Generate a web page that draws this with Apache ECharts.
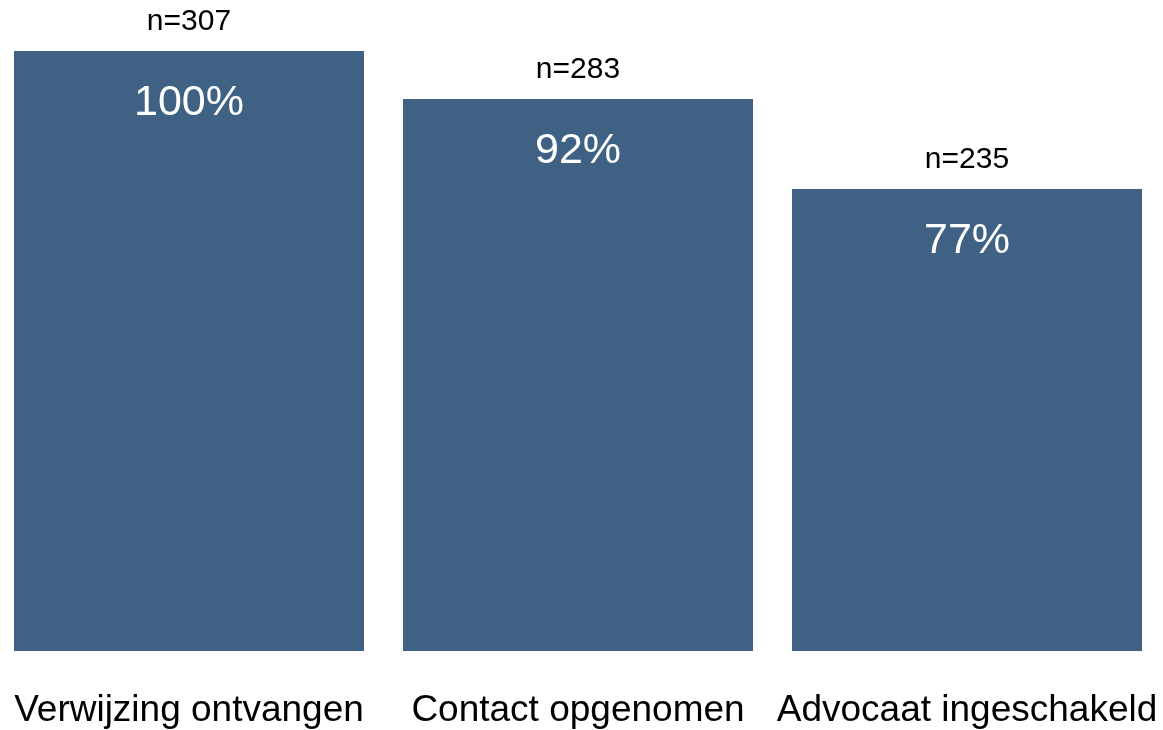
<!DOCTYPE html>
<html>
<head>
<meta charset="utf-8">
<script src="https://cdn.jsdelivr.net/npm/echarts@6/dist/echarts.min.js"></script>
<style>
  html, body { margin: 0; padding: 0; background: #fff; overflow: hidden; }
  /* chart is a little wider than the window so the outer bars sit like the original */
  #chart { position: absolute; left: -6px; top: 0; width: 1170px; height: 730px; }
</style>
</head>
<body>
<div id="chart"></div>
<script>
// data
var categories = ['Verwijzing ontvangen', 'Contact opgenomen', 'Advocaat ingeschakeld'];
var counts = [307, 283, 235];
var percents = [100, 92, 77];

var barColor = '#3e6184';
var font = 'Arial, "Liberation Sans", sans-serif';

var myChart = echarts.init(document.getElementById('chart'));
myChart.setOption({
    animation: false,
    grid: {
        left: 0.5,
        right: 2.5,
        top: 51,
        bottom: 79
    },
    xAxis: {
        type: 'category',
        data: categories,
        axisLine: {show: false},
        axisTick: {show: false},
        axisLabel: {
            interval: 0,
            margin: 41,
            color: '#000',
            fontSize: 37,
            fontFamily: font
        }
    },
    yAxis: {
        type: 'value',
        min: 0,
        max: 100,
        show: false
    },
    series: [
        {
            // bar height = percent, label inside the bar
            type: 'bar',
            barWidth: 350,
            barGap: '-100%',
            data: percents,
            itemStyle: {color: barColor},
            label: {
                show: true,
                position: 'insideTop',
                distance: 31,
                color: '#fff',
                fontSize: 43,
                fontFamily: font,
                formatter: '{c}%'
            }
        },
        {
            // n= labels above the bar
            type: 'bar',
            barWidth: 350,
            barGap: '-100%',
            data: percents,
            itemStyle: {color: 'rgba(0,0,0,0)'},
            silent: true,
            label: {
                show: true,
                position: 'top',
                distance: 14,
                color: '#000',
                fontSize: 30,
                fontFamily: font,
                formatter: function (p) {
                    return 'n=' + counts[p.dataIndex];
                }
            }
        }
    ]
});
</script>
</body>
</html>
